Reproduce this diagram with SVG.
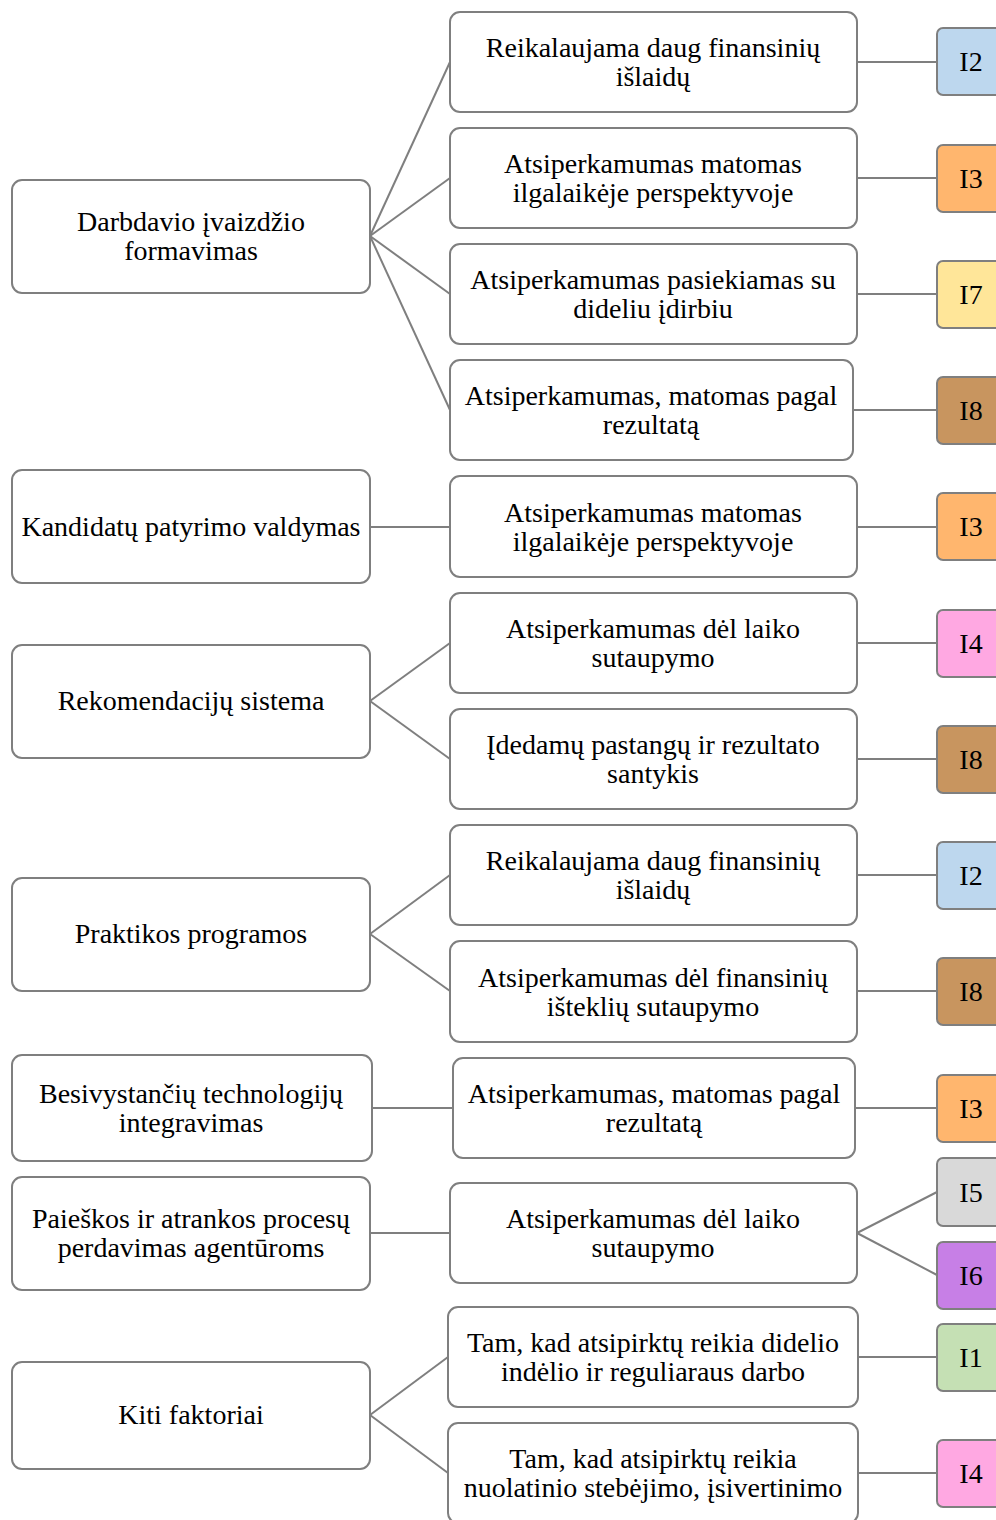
<svg xmlns="http://www.w3.org/2000/svg" width="996" height="1520" viewBox="0 0 996 1520">
<style>
.b{fill:#fff;stroke:#7f7f7f;stroke-width:2}
text{font-size:28px;fill:#000;text-anchor:middle}
.c line{stroke:#7f7f7f;stroke-width:2}
.i2{fill:#BDD7EE}.i3{fill:#FFB66E}.i7{fill:#FFE699}.i8{fill:#C8955F}.i4{fill:#FFA8E2}.i5{fill:#D9D9D9}.i6{fill:#C77FE6}.i1{fill:#C5E0B4}
.r{stroke:#7f7f7f;stroke-width:2}
</style>
<rect width="996" height="1520" fill="#fff"/>
<g class="c" id="connectors">
<line x1="370" y1="236" x2="450" y2="62"/>
<line x1="370" y1="236" x2="450" y2="178"/>
<line x1="370" y1="236" x2="450" y2="294"/>
<line x1="370" y1="236" x2="450" y2="410"/>
<line x1="370" y1="527" x2="450" y2="527"/>
<line x1="370" y1="701" x2="450" y2="643"/>
<line x1="370" y1="701" x2="450" y2="759"/>
<line x1="370" y1="934" x2="450" y2="875"/>
<line x1="370" y1="934" x2="450" y2="991"/>
<line x1="372" y1="1108" x2="453" y2="1108"/>
<line x1="370" y1="1233" x2="450" y2="1233"/>
<line x1="370" y1="1415" x2="448" y2="1357"/>
<line x1="370" y1="1415" x2="448" y2="1473"/>
<line x1="857" y1="62" x2="937" y2="62"/>
<line x1="857" y1="178" x2="937" y2="178"/>
<line x1="857" y1="294" x2="937" y2="294"/>
<line x1="853" y1="410" x2="937" y2="410"/>
<line x1="857" y1="527" x2="937" y2="527"/>
<line x1="857" y1="643" x2="937" y2="643"/>
<line x1="857" y1="759" x2="937" y2="759"/>
<line x1="857" y1="875" x2="937" y2="875"/>
<line x1="857" y1="991" x2="937" y2="991"/>
<line x1="855" y1="1108" x2="937" y2="1108"/>
<line x1="857" y1="1233" x2="937" y2="1192"/>
<line x1="857" y1="1233" x2="937" y2="1275"/>
<line x1="858" y1="1357" x2="937" y2="1357"/>
<line x1="858" y1="1473" x2="937" y2="1473"/>
</g>
<g font-family="Liberation Serif, Times New Roman, serif">
<g id="L1"><rect class="b" x="12" y="180" width="358" height="113" rx="10"/><text x="191" y="231">Darbdavio įvaizdžio</text><text x="191" y="260">formavimas</text></g>
<g id="L2"><rect class="b" x="12" y="470" width="358" height="113" rx="10"/><text x="191" y="536">Kandidatų patyrimo valdymas</text></g>
<g id="L3"><rect class="b" x="12" y="645" width="358" height="113" rx="10"/><text x="191" y="710">Rekomendacijų sistema</text></g>
<g id="L4"><rect class="b" x="12" y="878" width="358" height="113" rx="10"/><text x="191" y="943">Praktikos programos</text></g>
<g id="L5"><rect class="b" x="12" y="1055" width="360" height="106" rx="10"/><text x="191" y="1103">Besivystančių technologijų</text><text x="191" y="1132">integravimas</text></g>
<g id="L6"><rect class="b" x="12" y="1177" width="358" height="113" rx="10"/><text x="191" y="1228">Paieškos ir atrankos procesų</text><text x="191" y="1257">perdavimas agentūroms</text></g>
<g id="L7"><rect class="b" x="12" y="1362" width="358" height="107" rx="10"/><text x="191" y="1424">Kiti faktoriai</text></g>

<g id="M1"><rect class="b" x="450" y="12" width="407" height="100" rx="10"/><text x="653" y="57">Reikalaujama daug finansinių</text><text x="653" y="86">išlaidų</text></g>
<g id="M2"><rect class="b" x="450" y="128" width="407" height="100" rx="10"/><text x="653" y="173">Atsiperkamumas matomas</text><text x="653" y="202">ilgalaikėje perspektyvoje</text></g>
<g id="M3"><rect class="b" x="450" y="244" width="407" height="100" rx="10"/><text x="653" y="289">Atsiperkamumas pasiekiamas su</text><text x="653" y="318">dideliu įdirbiu</text></g>
<g id="M4"><rect class="b" x="450" y="360" width="403" height="100" rx="10"/><text x="651" y="405">Atsiperkamumas, matomas pagal</text><text x="651" y="434">rezultatą</text></g>
<g id="M5"><rect class="b" x="450" y="476" width="407" height="101" rx="10"/><text x="653" y="522">Atsiperkamumas matomas</text><text x="653" y="551">ilgalaikėje perspektyvoje</text></g>
<g id="M6"><rect class="b" x="450" y="593" width="407" height="100" rx="10"/><text x="653" y="638">Atsiperkamumas dėl laiko</text><text x="653" y="667">sutaupymo</text></g>
<g id="M7"><rect class="b" x="450" y="709" width="407" height="100" rx="10"/><text x="653" y="754">Įdedamų pastangų ir rezultato</text><text x="653" y="783">santykis</text></g>
<g id="M8"><rect class="b" x="450" y="825" width="407" height="100" rx="10"/><text x="653" y="870">Reikalaujama daug finansinių</text><text x="653" y="899">išlaidų</text></g>
<g id="M9"><rect class="b" x="450" y="941" width="407" height="101" rx="10"/><text x="653" y="987">Atsiperkamumas dėl finansinių</text><text x="653" y="1016">išteklių sutaupymo</text></g>
<g id="M10"><rect class="b" x="453" y="1058" width="402" height="100" rx="10"/><text x="654" y="1103">Atsiperkamumas, matomas pagal</text><text x="654" y="1132">rezultatą</text></g>
<g id="M11"><rect class="b" x="450" y="1183" width="407" height="100" rx="10"/><text x="653" y="1228">Atsiperkamumas dėl laiko</text><text x="653" y="1257">sutaupymo</text></g>
<g id="M12"><rect class="b" x="448" y="1307" width="410" height="100" rx="10"/><text x="653" y="1352">Tam, kad atsipirktų reikia didelio</text><text x="653" y="1381">indėlio ir reguliaraus darbo</text></g>
<g id="M13"><rect class="b" x="448" y="1423" width="410" height="100" rx="10"/><text x="653" y="1468">Tam, kad atsipirktų reikia</text><text x="653" y="1497">nuolatinio stebėjimo, įsivertinimo</text></g>

<g id="R1"><rect class="r i2" x="937" y="28" width="80" height="67" rx="6"/><text x="971" y="71">I2</text></g>
<g id="R2"><rect class="r i3" x="937" y="145" width="80" height="67" rx="6"/><text x="971" y="188">I3</text></g>
<g id="R3"><rect class="r i7" x="937" y="261" width="80" height="67" rx="6"/><text x="971" y="304">I7</text></g>
<g id="R4"><rect class="r i8" x="937" y="377" width="80" height="67" rx="6"/><text x="971" y="420">I8</text></g>
<g id="R5"><rect class="r i3" x="937" y="493" width="80" height="67" rx="6"/><text x="971" y="536">I3</text></g>
<g id="R6"><rect class="r i4" x="937" y="610" width="80" height="67" rx="6"/><text x="971" y="653">I4</text></g>
<g id="R7"><rect class="r i8" x="937" y="726" width="80" height="67" rx="6"/><text x="971" y="769">I8</text></g>
<g id="R8"><rect class="r i2" x="937" y="842" width="80" height="67" rx="6"/><text x="971" y="885">I2</text></g>
<g id="R9"><rect class="r i8" x="937" y="958" width="80" height="67" rx="6"/><text x="971" y="1001">I8</text></g>
<g id="R10"><rect class="r i3" x="937" y="1075" width="80" height="67" rx="6"/><text x="971" y="1118">I3</text></g>
<g id="R11"><rect class="r i5" x="937" y="1158" width="80" height="68" rx="6"/><text x="971" y="1202">I5</text></g>
<g id="R12"><rect class="r i6" x="937" y="1242" width="80" height="67" rx="6"/><text x="971" y="1285">I6</text></g>
<g id="R13"><rect class="r i1" x="937" y="1324" width="80" height="67" rx="6"/><text x="971" y="1367">I1</text></g>
<g id="R14"><rect class="r i4" x="937" y="1440" width="80" height="67" rx="6"/><text x="971" y="1483">I4</text></g>
</g>
</svg>
